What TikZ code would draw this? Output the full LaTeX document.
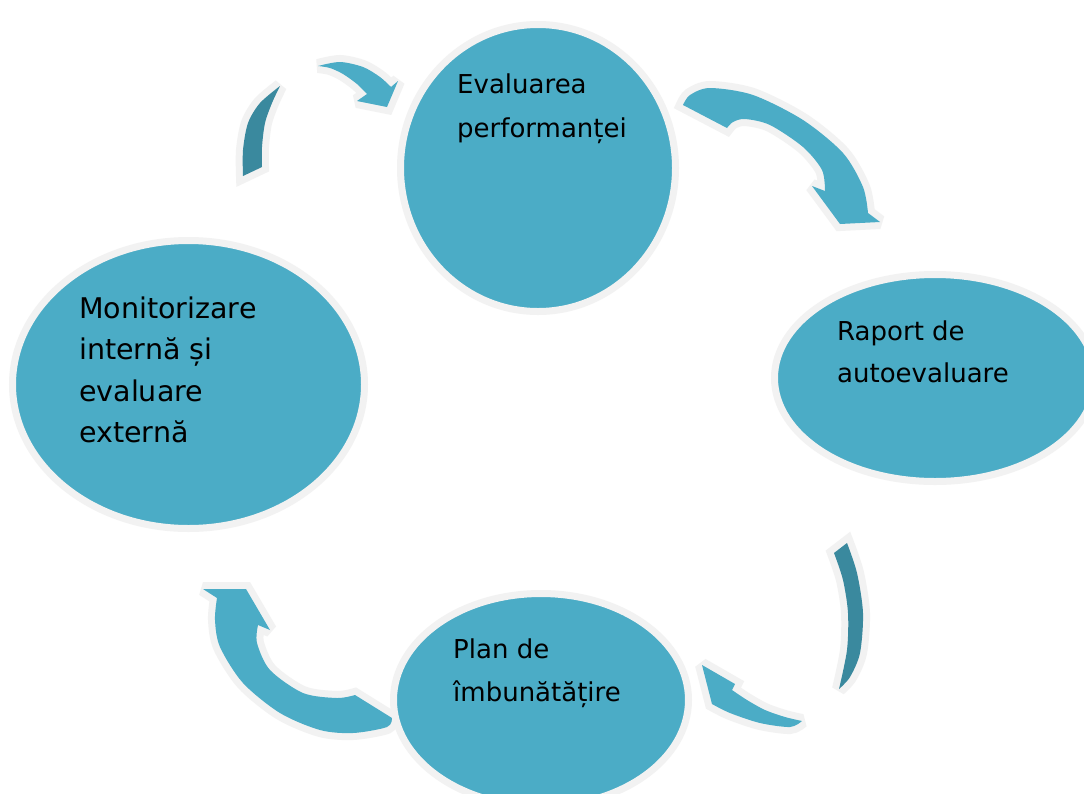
\documentclass[tikz,border=0pt]{standalone}
\usepackage{fontspec}
\setmainfont{DejaVu Sans}
\definecolor{acc}{HTML}{4BACC6}
\definecolor{accd}{HTML}{3A899E}
\definecolor{bord}{HTML}{F2F2F2}
\begin{document}
\begin{tikzpicture}[x=1pt,y=-1pt,
  bubble/.style={draw=bord, line width=7pt, fill=acc},
  arrowedge/.style={draw=bord, line width=14pt, line join=miter, miter limit=2},
  lbl/.style={anchor=base west, align=left, inner sep=0pt, text=black}]
\useasboundingbox (0,0) rectangle (1084,793);
\clip (0,0) rectangle (1084,793);
\fill[white] (0,0) rectangle (1084,793);

% arrow 1 (top left)
\def\arAd{(243,176) -- plot[smooth] coordinates {(243,176) (243,150) (248,123) (260,103) (280,86)}
  -- plot[smooth] coordinates {(280,86) (272,103) (265,123) (262,147) (262,167)} -- cycle}
\def\arAl{(318,66) -- plot[smooth] coordinates {(318,66) (340,62) (363,67) (380,77) (391,87)}
  -- (398,81) -- (387,107) -- (357,101) -- (367,94)
  -- plot[smooth] coordinates {(367,94) (357,84) (343,74) (330,68) (318,66)} -- cycle}
% arrow 2 (top right)
\def\arB{(683,105) -- plot[smooth] coordinates {(683,105) (690,95) (710,88) (753,95) (803,120) (843,153) (863,187) (868,213)}
  -- (880,222) -- (840,224) -- (812,186) -- (825,191)
  -- plot[smooth] coordinates {(825,191) (822,170) (803,147) (770,125) (745,119) (733,122) (727,128)} -- cycle}
% arrow 3 (bottom right)
\def\arCd{(847,543) -- plot[smooth] coordinates {(847,543) (857,573) (863,613) (860,653) (850,677) (839,689)}
  -- plot[smooth] coordinates {(839,689) (847,650) (848,613) (843,580) (834,553)} -- cycle}
\def\arCl{(802,721) -- plot[smooth] coordinates {(802,721) (785,717) (765,710) (747,700) (732,690)}
  -- (735,684) -- (702,665) -- (712,704)
  -- plot[smooth] coordinates {(712,704) (730,713) (760,723) (790,727) (802,721)} -- cycle}
% arrow 4 (bottom left)
\def\arD{(203,589) -- (246,589) -- (270,630) -- (258,625)
  -- plot[smooth] coordinates {(258,625) (257,643) (270,670) (303,693) (337,698) (355,695)}
  -- (392,718)
  -- plot[smooth] coordinates {(392,718) (387,727) (353,733) (320,730) (280,713) (243,683) (220,647) (215,620) (217,598)} -- cycle}

\draw[arrowedge] \arAd;
\draw[arrowedge] \arAl;
\draw[arrowedge] \arB;
\draw[arrowedge] \arCd;
\draw[arrowedge] \arCl;
\draw[arrowedge] \arD;
\fill[accd] \arAd;
\fill[acc] \arAl;
\fill[acc] \arB;
\fill[accd] \arCd;
\fill[acc] \arCl;
\fill[acc] \arD;

% bubbles
\draw[bubble] (538,168) ellipse [x radius=137.5, y radius=143.5];
\draw[bubble] (188.5,384.5) ellipse [x radius=176, y radius=144];
\draw[bubble] (935,378) ellipse [x radius=160.5, y radius=103.5];
\draw[bubble] (541,700) ellipse [x radius=147.5, y radius=106.5];

% labels (anchored at the baseline of the last line)
\node[lbl, font=\fontsize{26}{44}\selectfont] (tE) at (457,137) {Evaluarea\\performanței};
\node[lbl, font=\fontsize{28.5}{41.5}\selectfont] (tM) at (79,442.5) {Monitorizare\\internă și\\evaluare\\externă};
\node[lbl, font=\fontsize{26}{42}\selectfont] (tR) at (837,382) {Raport de\\autoevaluare};
\node[lbl, font=\fontsize{26}{43}\selectfont] (tP) at (453,701) {Plan de\\îmbunătățire};
\end{tikzpicture}
\end{document}
